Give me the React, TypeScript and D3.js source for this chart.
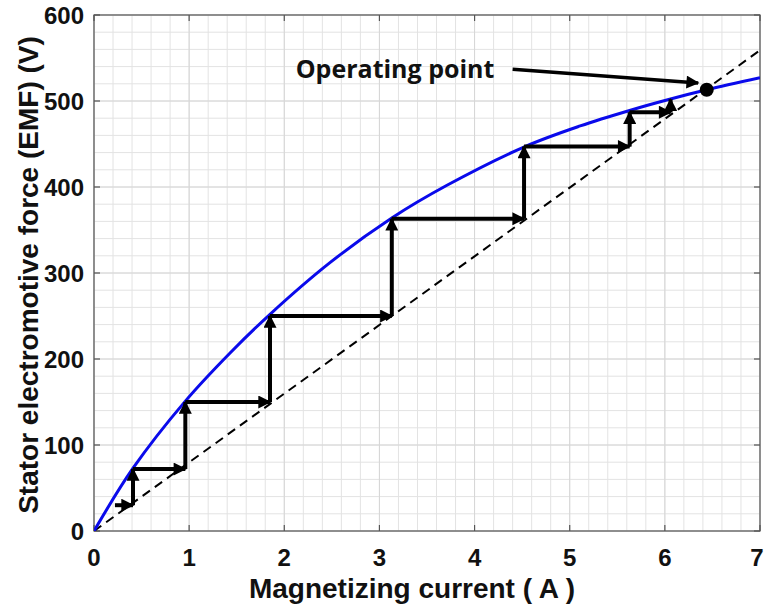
import React from "react";
import * as d3 from "d3";

// Magnetization curve (no-load EMF vs magnetizing current)
const curveI = [0, 0.41, 0.96, 1.43, 1.85, 2.48, 3.13, 3.71, 4.53, 5.11, 5.63, 6.05, 6.44, 7];
const curveE = [0, 73, 151, 207, 252, 312, 364, 402, 447, 471, 489, 502, 513, 527];

// Capacitor (load) line
const lineI = [0, 7];
const lineE = [0, 559];

// Self-excitation staircase
const stepI = [0.22, 0.41, 0.96, 1.85, 3.13, 4.52, 5.63, 6.06];
const stepE = [30, 72, 150, 250, 363, 447, 487, 502];

// Operating point and annotation
const opI = 6.44;
const opE = 513;
const annoText = "Operating point";
const annoFrom = [4.4, 537];
const annoTo = [6.35, 521];
const annoTextPos = [2.12, 527];

const xTicks = [0, 1, 2, 3, 4, 5, 6, 7];
const yTicks = [0, 100, 200, 300, 400, 500, 600];
const xLabel = "Magnetizing current ( A )";
const yLabel = "Stator electromotive force (EMF) (V)";

const W = 765;
const H = 607;
const L = 94, R = 760, T = 15, B = 531;

export default function App() {
  const x = d3.scaleLinear().domain([0, 7]).range([L, R]);
  const y = d3.scaleLinear().domain([0, 600]).range([B, T]);

  const minorX = d3.range(0, 7.0001, 0.2);
  const minorY = d3.range(0, 600.001, 20);

  const curvePts: [number, number][] = curveI.map((v, i) => [v, curveE[i]]);
  const curvePath = d3
    .line<[number, number]>()
    .x((d) => x(d[0]))
    .y((d) => y(d[1]))
    .curve(d3.curveCatmullRom.alpha(0.5))(curvePts) as string;

  // staircase arrows
  const arrows: { x1: number; y1: number; x2: number; y2: number }[] = [];
  arrows.push({ x1: stepI[0], y1: stepE[0], x2: stepI[1], y2: stepE[0] });
  for (let k = 1; k < stepI.length; k++) {
    arrows.push({ x1: stepI[k], y1: stepE[k - 1], x2: stepI[k], y2: stepE[k] });
    if (k + 1 < stepI.length) {
      arrows.push({ x1: stepI[k], y1: stepE[k], x2: stepI[k + 1], y2: stepE[k] });
    }
  }

  const fontAxis = "'Liberation Sans', Arial, sans-serif";

  return (
    <svg
      width={W}
      height={H}
      style={{ position: "absolute", left: 0, top: 0, background: "#fff" }}
    >
      <defs>
        <marker
          id="ah"
          viewBox="0 0 10 10"
          refX="9"
          refY="5"
          markerWidth="14"
          markerHeight="13"
          markerUnits="userSpaceOnUse"
          orient="auto"
        >
          <path d="M0,0 L10,5 L0,10 z" fill="#000" />
        </marker>
        <clipPath id="plotclip">
          <rect x={L} y={T} width={R - L} height={B - T} />
        </clipPath>
      </defs>
      <rect x={0} y={0} width={W} height={H} fill="#fff" />

      {/* grid */}
      <g stroke="#e3e3e3" strokeWidth={1}>
        {minorX.map((v, i) => (
          <line key={"gx" + i} x1={x(v)} x2={x(v)} y1={T} y2={B} />
        ))}
        {minorY.map((v, i) => (
          <line key={"gy" + i} x1={L} x2={R} y1={y(v)} y2={y(v)} />
        ))}
      </g>
      <g stroke="#d6d6d6" strokeWidth={1}>
        {xTicks.map((v) => (
          <line key={"mx" + v} x1={x(v)} x2={x(v)} y1={T} y2={B} />
        ))}
        {yTicks.map((v) => (
          <line key={"my" + v} x1={L} x2={R} y1={y(v)} y2={y(v)} />
        ))}
      </g>

      {/* box and ticks */}
      <rect x={L} y={T} width={R - L} height={B - T} fill="none" stroke="#555" strokeWidth={1.2} />
      <g stroke="#555" strokeWidth={1.2}>
        {xTicks.map((v) => (
          <g key={"tx" + v}>
            <line x1={x(v)} x2={x(v)} y1={B} y2={B - 6} />
            <line x1={x(v)} x2={x(v)} y1={T} y2={T + 6} />
          </g>
        ))}
        {yTicks.map((v) => (
          <g key={"ty" + v}>
            <line x1={L} x2={L + 6} y1={y(v)} y2={y(v)} />
            <line x1={R} x2={R - 6} y1={y(v)} y2={y(v)} />
          </g>
        ))}
      </g>

      <g clipPath="url(#plotclip)">
        <line
          x1={x(lineI[0])}
          y1={y(lineE[0])}
          x2={x(lineI[1])}
          y2={y(lineE[1])}
          stroke="#000"
          strokeWidth={2}
          strokeDasharray="9,6"
        />
        <path d={curvePath} fill="none" stroke="#0a0aeb" strokeWidth={3} />
      </g>

      {/* staircase arrows */}
      <g stroke="#000" strokeWidth={4} fill="none">
        {arrows.map((a, i) => (
          <line
            key={"ar" + i}
            x1={x(a.x1)}
            y1={y(a.y1)}
            x2={x(a.x2)}
            y2={y(a.y2)}
            markerEnd="url(#ah)"
          />
        ))}
      </g>

      {/* operating point */}
      <circle cx={x(opI)} cy={y(opE)} r={7} fill="#000" />

      {/* annotation */}
      <line
        x1={x(annoFrom[0])}
        y1={y(annoFrom[1])}
        x2={x(annoTo[0])}
        y2={y(annoTo[1])}
        stroke="#000"
        strokeWidth={3.5}
        markerEnd="url(#ah)"
      />
      <text
        x={x(annoTextPos[0])}
        y={y(annoTextPos[1])}
        fontFamily="'Open Sans', sans-serif"
        fontWeight="bold"
        fontSize={25}
        fill="#111"
      >
        {annoText}
      </text>

      {/* tick labels */}
      <g fontFamily={fontAxis} fontWeight="bold" fontSize={24} fill="#111">
        {xTicks.map((v) => (
          <text key={"lx" + v} x={Math.min(x(v), W - 8)} y={566} textAnchor="middle">
            {v}
          </text>
        ))}
        {yTicks.map((v) => (
          <text key={"ly" + v} x={84} y={y(v) + 9} textAnchor="end">
            {v}
          </text>
        ))}
      </g>

      {/* axis labels */}
      <text
        x={412}
        y={598}
        textAnchor="middle"
        fontFamily={fontAxis}
        fontWeight="bold"
        fontSize={28}
        fill="#111"
      >
        {xLabel}
      </text>
      <text
        transform={`translate(38,275) rotate(-90)`}
        textAnchor="middle"
        fontFamily={fontAxis}
        fontWeight="bold"
        fontSize={28}
        fill="#111"
      >
        {yLabel}
      </text>
    </svg>
  );
}
